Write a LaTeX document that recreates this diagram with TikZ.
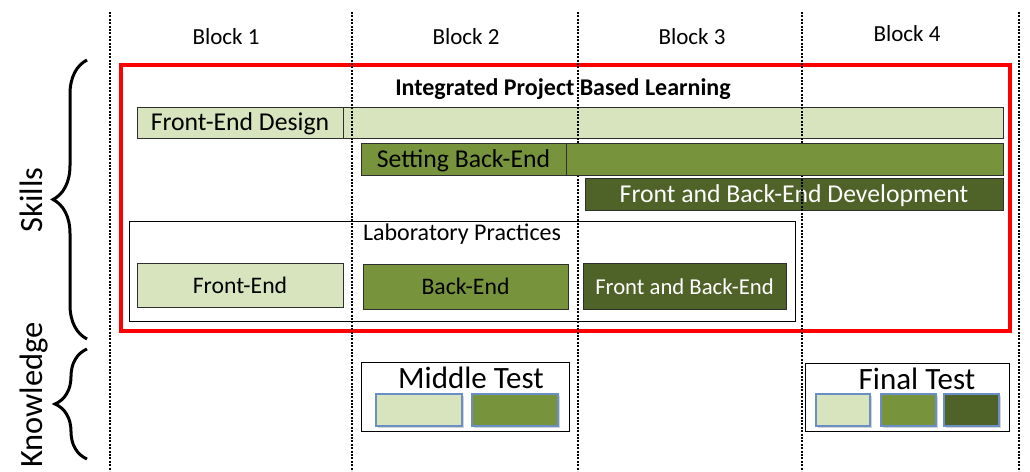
\documentclass[tikz,border=0pt]{standalone}
\usepackage{fontspec}
\setmainfont{Carlito}
\usetikzlibrary{decorations.pathreplacing,shadows}
\definecolor{lightg}{HTML}{D7E4BD}
\definecolor{midg}{HTML}{77933C}
\definecolor{darkg}{HTML}{4F6228}
\definecolor{edgeg}{HTML}{2E2E2E}
\definecolor{blueedge}{HTML}{6A8FC6}
\begin{document}
\begin{tikzpicture}[x=1pt,y=-1pt,
  bar/.style={draw=edgeg, line width=1pt, inner sep=0pt, text height=18pt, text depth=2pt},
  lightbar/.style={bar, fill=lightg, font=\fontsize{25.7}{28}\selectfont},
  midbar/.style={bar, fill=midg, font=\fontsize{25.7}{28}\selectfont},
  darkbar/.style={bar, fill=darkg, text=white, font=\fontsize{25.7}{28}\selectfont},
  labbox/.style={bar, font=\fontsize{23.7}{26}\selectfont},
  testbox/.style={draw=black, line width=1pt, inner sep=0pt},
  chip/.style={draw=blueedge, line width=1.2pt, inner sep=0pt, minimum height=32pt,
    drop shadow={shadow xshift=1.5pt, shadow yshift=-1.5pt, opacity=0.35}},
  blocklbl/.style={anchor=base, inner sep=0pt, font=\fontsize{23}{26}\selectfont},
  sidelbl/.style={anchor=base, rotate=90, inner sep=0pt, font=\fontsize{32.5}{36}\selectfont},
  testlbl/.style={anchor=base, inner sep=0pt, font=\fontsize{31}{34}\selectfont},
  gridline/.style={line width=2.3pt, dash pattern=on 2pt off 1.4pt},
  bracestyle/.style={line width=3pt, decorate},
]
\useasboundingbox (0,0) rectangle (1030,471);

% Block labels
\node[blocklbl] (b1) at (226,44) {Block 1};
\node[blocklbl] (b2) at (466,44) {Block 2};
\node[blocklbl] (b3) at (692,44) {Block 3};
\node[blocklbl] (b4) at (907,41) {Block 4};

% Red frame
\node[draw=red, line width=3.5pt, inner sep=0pt, minimum width=889pt, minimum height=266pt] (pbl) at (565.5,198) {};
\node[anchor=base, inner sep=0pt, font=\bfseries\fontsize{24}{27}\selectfont] (pbltitle) at (563,95) {Integrated Project Based Learning};

% Bars
\node[lightbar, minimum width=206pt, minimum height=31pt] (fed) at (240,122.5) {Front-End Design};
\node[bar, fill=lightg, minimum width=660pt, minimum height=31pt] (fedx) at (673,122.5) {};
\node[darkbar, minimum width=418pt, minimum height=32pt] (fbd) at (794,194) {Front and Back-End Development};

% Laboratory practices
\node[bar, line width=1pt, draw=black, minimum width=666pt, minimum height=100pt] (lab) at (462,271) {};
\node[anchor=base, inner sep=0pt, font=\fontsize{24}{27}\selectfont] (labt) at (462,240) {Laboratory Practices};
\node[labbox, fill=lightg, minimum width=206pt, minimum height=44pt] (lfe) at (240,285) {Front-End};
\node[labbox, fill=midg, minimum width=205pt, minimum height=45pt] (lbe) at (465.5,286.5) {Back-End};
\node[labbox, fill=darkg, text=white, font=\fontsize{22.7}{26}\selectfont, minimum width=203pt, minimum height=46pt] (lfb) at (684.5,286) {Front and Back-End};

% Tests
\node[testbox, minimum width=208pt, minimum height=69pt] (mt) at (465,396.5) {};
\node[testlbl] (mtl) at (471,388) {Middle Test};
\node[chip, fill=lightg, minimum width=86pt] (m1) at (419,410) {};
\node[chip, fill=midg, minimum width=86pt] (m2) at (515,410) {};

\node[testbox, minimum width=204pt, minimum height=68pt] (ft) at (907,397) {};
\node[testlbl] (ftl) at (917,389) {Final Test};
\node[chip, fill=lightg, minimum width=54pt] (f1) at (843,410) {};
\node[chip, fill=midg, minimum width=55pt] (f2) at (908.5,410) {};
\node[chip, fill=darkg, minimum width=55pt] (f3) at (971.5,410) {};

% Dotted grid lines
\foreach \gx/\gn in {110/g0,352/g1,578/g2,802/g3,1019/g4} {
  \coordinate (\gn t) at (\gx,12);
  \coordinate (\gn b) at (\gx,471);
  \draw[gridline] (\gn t) -- (\gn b);
}

% Setting Back-End bar drawn above grid lines
\node[midbar, minimum width=205pt, minimum height=32pt] (sbe) at (463.5,159) {Setting Back-End};
\node[bar, fill=midg, minimum width=437pt, minimum height=32pt] (sbex) at (784.5,159) {};

% Braces
\coordinate (sb1) at (87,339);
\coordinate (sb2) at (87,60);
\coordinate (kb1) at (87,459);
\coordinate (kb2) at (87,349);
\draw[bracestyle, decoration={brace, amplitude=34pt}] (sb1) -- (sb2);
\draw[bracestyle, decoration={brace, amplitude=32pt}] (kb1) -- (kb2);
\node[sidelbl] (skills) at (42,200) {Skills};
\node[sidelbl] (know) at (42,395) {Knowledge};
\end{tikzpicture}
\end{document}
